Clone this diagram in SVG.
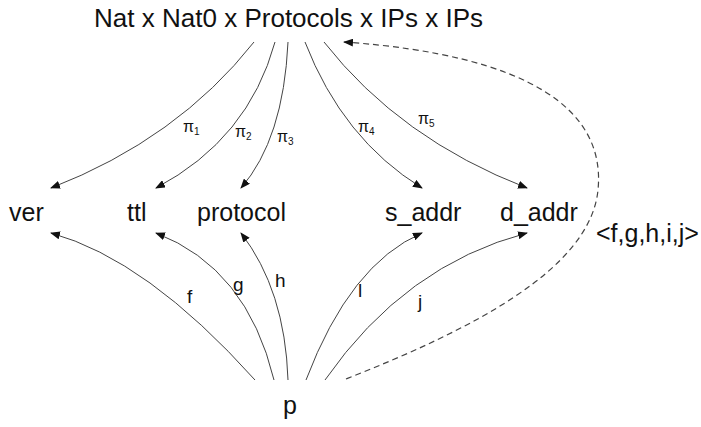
<svg xmlns="http://www.w3.org/2000/svg" width="701" height="427" viewBox="0 0 701 427">
<style>
text{font-family:"Liberation Sans",Arial,sans-serif;fill:#111}
.lbl{font-size:25px}
.pi{font-size:16px}
.sub{font-size:10px}
.fn{font-size:19px}
.c{fill:none;stroke:#444;stroke-width:1;marker-end:url(#ah)}
.d{fill:none;stroke:#444;stroke-width:1.2;stroke-dasharray:6,4;marker-end:url(#ah)}
</style>
<defs>
<marker id="ah" markerWidth="10" markerHeight="8" refX="9" refY="4" orient="auto" markerUnits="userSpaceOnUse">
<path d="M0,0 L10,4 L0,8 Z" fill="#111"/>
</marker>
</defs>
<rect width="701" height="427" fill="#fff"/>
<g id="product"><text x="94" y="27" font-size="26" textLength="389" lengthAdjust="spacingAndGlyphs">Nat x Nat0 x Protocols x IPs x IPs</text></g>
<g id="ver"><text class="lbl" x="9" y="221">ver</text></g>
<g id="ttl"><text class="lbl" x="127" y="221">ttl</text></g>
<g id="protocol"><text class="lbl" x="197" y="221">protocol</text></g>
<g id="s_addr"><text class="lbl" x="385" y="221">s_addr</text></g>
<g id="d_addr"><text class="lbl" x="500" y="221">d_addr</text></g>
<g id="p"><text class="lbl" x="283" y="414">p</text></g>
<g id="connectors">
<path class="c" d="M254,42 Q177.5,139 51,188"/>
<path class="c" d="M275,42 Q248.5,139 156,188"/>
<path class="c" d="M288,42 Q283.5,139 241,188"/>
<path class="c" d="M305,42 Q342.5,139 422,188"/>
<path class="c" d="M324,42 Q400,139 527,188"/>
<path class="c" d="M255,380 Q147,259.5 51,233"/>
<path class="c" d="M274,380 Q247,268 156,233"/>
<path class="c" d="M288,380 Q285,290 241,233"/>
<path class="c" d="M306,380 Q350,264 422,233"/>
<path class="c" d="M325,380 Q405,265 527,233"/>
<path class="d" d="M346,379 C470,330 590,270 598,190 C606,110 530,55 344,42"/>
<text class="pi" x="183" y="132">π<tspan class="sub" dy="3">1</tspan></text>
<text class="pi" x="235" y="137">π<tspan class="sub" dy="3">2</tspan></text>
<text class="pi" x="277" y="142">π<tspan class="sub" dy="3">3</tspan></text>
<text class="pi" x="358" y="132">π<tspan class="sub" dy="3">4</tspan></text>
<text class="pi" x="418" y="124">π<tspan class="sub" dy="3">5</tspan></text>
<text class="fn" x="187" y="303">f</text>
<text class="fn" x="233" y="291">g</text>
<text class="fn" x="275" y="287">h</text>
<text class="fn" x="358" y="297">l</text>
<text class="fn" x="418" y="308">j</text>
<text class="lbl" x="596" y="242">&lt;f,g,h,i,j&gt;</text>
</g>
</svg>
